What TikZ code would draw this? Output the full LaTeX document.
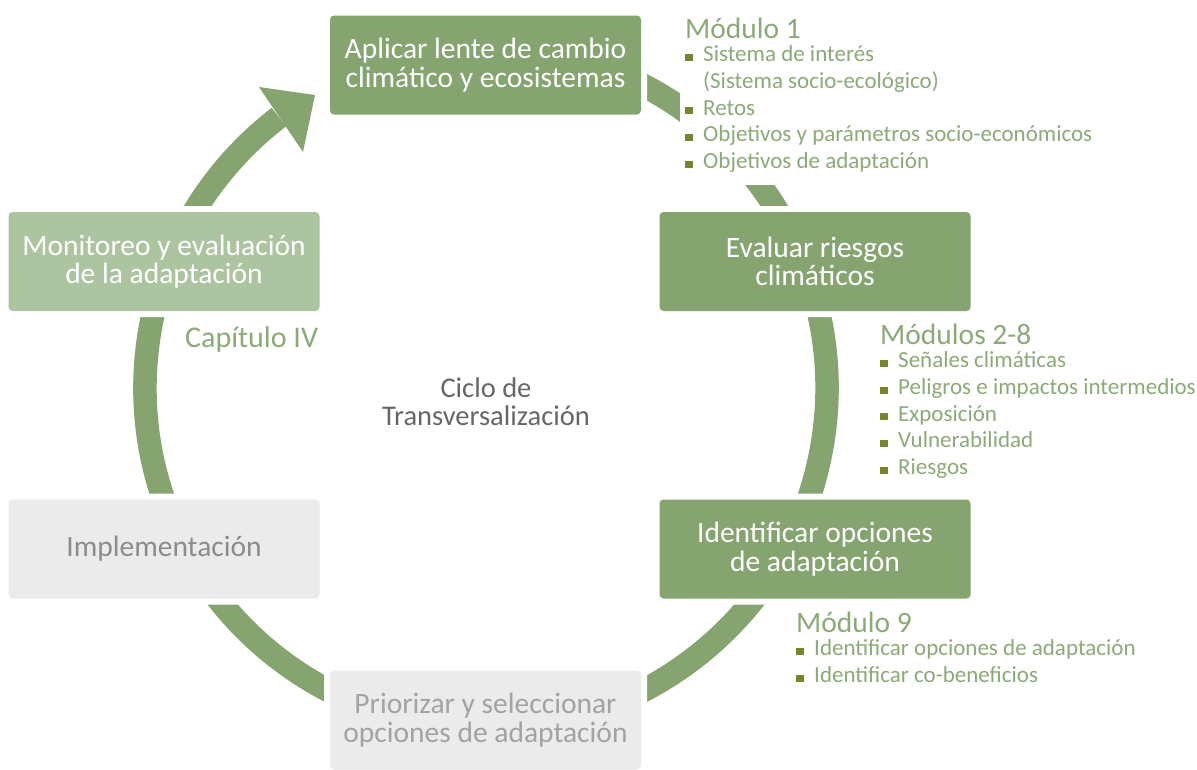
\documentclass[tikz,border=0pt]{standalone}
\usepackage{fontspec}
\setmainfont{Carlito}
\definecolor{verde}{HTML}{85A46F}
\definecolor{verdeclaro}{HTML}{ADC4A0}
\definecolor{gris}{HTML}{EBEBEB}
\definecolor{textoverde}{HTML}{8BAA77}
\definecolor{oliva}{HTML}{7A842A}
\definecolor{textogris}{HTML}{8C8C8C}
\definecolor{textogrisclaro}{HTML}{A3A3A3}
\definecolor{textociclo}{HTML}{666666}
\newcommand{\vineta}{\textcolor{oliva}{\rule[0.7pt]{8pt}{7pt}}}
\tikzset{
  caja/.style={rectangle, rounded corners=4pt, minimum width=311pt, minimum height=99pt,
    align=center, font=\fontsize{29.5}{28.5}\selectfont,
    preaction={draw=white, line width=12pt}},
  modulo/.style={anchor=base west, fill=white, inner xsep=5pt, inner ysep=8pt,
    text=textoverde, font=\fontsize{23}{26.7}\selectfont}
}
\begin{document}
\begin{tikzpicture}[x=1pt,y=-1pt]
  \useasboundingbox (0,0) rectangle (1197,769);
  \coordinate (c) at (486,388);
  \draw[verde, line width=23.5pt] (c) ++(-80:341) arc[start angle=-80, end angle=232.6, radius=341];
  \coordinate (p1) at (259,87);
  \coordinate (p2) at (315,95);
  \coordinate (p3) at (303,152);
  \fill[verde] (p1) -- (p2) -- (p3) -- cycle;
  \node[caja, fill=verde, text=white] (aplicar) at (485.5,65) {Aplicar lente de cambio\\climático y ecosistemas};
  \node[caja, fill=verde, text=white] (evaluar) at (815,261.5) {Evaluar riesgos\\climáticos};
  \node[caja, fill=verde, text=white] (identificar) at (815,549) {Identificar opciones\\de adaptación};
  \node[caja, fill=gris, text=textogrisclaro] (priorizar) at (485.5,720) {Priorizar y seleccionar\\opciones de adaptación};
  \node[caja, fill=gris, text=textogris] (implementacion) at (164,549) {Implementación};
  \node[caja, fill=verdeclaro, text=white] (monitoreo) at (164,261.5) {Monitoreo y evaluación\\de la adaptación};
  \node[modulo] (mod1) at (680,38) {\begin{tabular}[t]{@{}l@{\hspace{10pt}}l@{}}
    \multicolumn{2}{@{}l@{}}{\fontsize{29.5}{30}\selectfont Módulo 1}\\[-3pt]
    \vineta & Sistema de interés\\
            & (Sistema socio-ecológico)\\
    \vineta & Retos\\
    \vineta & Objetivos y parámetros socio-económicos\\
    \vineta & Objetivos de adaptación
  \end{tabular}};
  \node[modulo] (mod2) at (875,344) {\begin{tabular}[t]{@{}l@{\hspace{10pt}}l@{}}
    \multicolumn{2}{@{}l@{}}{\fontsize{29.5}{30}\selectfont Módulos 2-8}\\[-3pt]
    \vineta & Señales climáticas\\
    \vineta & Peligros e impactos intermedios\\
    \vineta & Exposición\\
    \vineta & Vulnerabilidad\\
    \vineta & Riesgos
  \end{tabular}};
  \node[modulo] (mod9) at (791,632) {\begin{tabular}[t]{@{}l@{\hspace{10pt}}l@{}}
    \multicolumn{2}{@{}l@{}}{\fontsize{29.5}{30}\selectfont Módulo 9}\\[-3pt]
    \vineta & Identificar opciones de adaptación\\
    \vineta & Identificar co-beneficios
  \end{tabular}};
  \node[anchor=base west, inner sep=0pt, text=textoverde, font=\fontsize{30}{30}\selectfont] (capitulo) at (185,347) {Capítulo IV};
  \node[align=center, text=textociclo, font=\fontsize{28.5}{28}\selectfont] (ciclo) at (486,402) {Ciclo de\\Transversalización};
\end{tikzpicture}
\end{document}
